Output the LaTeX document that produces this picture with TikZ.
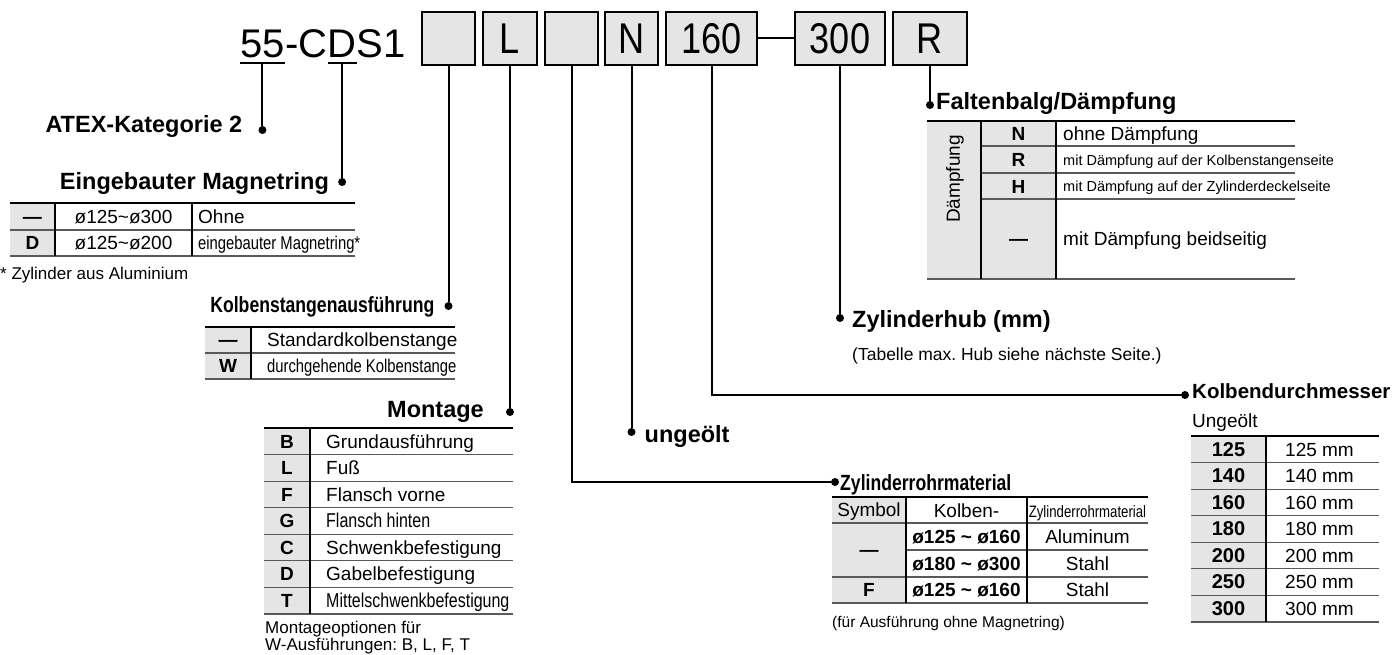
\documentclass[tikz,border=0pt]{standalone}
\usepackage{fontspec}
\setmainfont{Liberation Sans}
\newfontfamily\condfont[FakeStretch=0.8]{Liberation Sans}
\newfontfamily\boxfont[FakeStretch=0.84]{Liberation Sans}
\usetikzlibrary{calc,positioning}
\definecolor{cellgray}{gray}{0.9}
\definecolor{rulegray}{gray}{0.35}
\newcommand{\fsz}[1]{\fontsize{#1}{#1}\selectfont}
\frenchspacing

\begin{document}
\begin{tikzpicture}[x=1pt,y=-1pt,
    codebox/.style={draw, line width=2pt, fill=cellgray, minimum height=53pt, inner sep=0pt, font=\boxfont\fsz{43}},
    title/.style={inner sep=0pt, anchor=base west, font=\fsz{40}},
    leader/.style={line width=2pt},
    dot/.style={circle, fill, inner sep=0pt, minimum size=8pt},
    head/.style={inner sep=0pt, font=\bfseries\fsz{23.5}},
    chead/.style={inner sep=0pt, font=\condfont\bfseries\fsz{22}},
    txt/.style={inner sep=0pt, text height=13.5pt, text depth=0pt, font=\fsz{19}},
    ctxt/.style={inner sep=0pt, text height=13pt, text depth=0pt, font=\condfont\fsz{18.5}},
    stxt/.style={inner sep=0pt, text height=10.5pt, text depth=0pt, font=\fsz{14.5}},
    key/.style={inner sep=0pt, text height=13.5pt, text depth=0pt, font=\bfseries\fsz{19}},
    topline/.style={line width=2.2pt},
    rowline/.style={line width=1.2pt, rulegray},
    colline/.style={line width=1.2pt}]
    \useasboundingbox (0,0) rectangle (1397,655);

    % Part number
    \node[title] (t55) at (240,58) {55};
    \node[title] (tc) at (t55.base east) {-C};
    \node[title] (td) at (tc.base east) {D};
    \node[title] (ts) at (td.base east) {S1};
    \draw[leader] ([yshift=-5pt]t55.base west) -- coordinate (u55) ([yshift=-5pt]t55.base east);
    \draw[leader] ([yshift=-5pt]td.base west) -- coordinate (ud) ([yshift=-5pt]td.base east);

    % Code boxes
    \node[codebox, minimum width=53pt] (b1) at (448.5,38.5) {};
    \node[codebox, minimum width=54pt] (b2) at (510,38.5) {L};
    \node[codebox, minimum width=53pt] (b3) at (571.5,38.5) {};
    \node[codebox, minimum width=53pt] (b4) at (631.5,38.5) {N};
    \node[codebox, minimum width=91pt] (b5) at (711.5,38.5) {160};
    \node[codebox, minimum width=90pt] (b6) at (840,38.5) {300};
    \node[codebox, minimum width=74pt] (b7) at (930,38.5) {R};
    \draw[leader] (b5) -- (b6);

    % Leaders
    \node[dot] (da) at (u55 |- 0,130) {};
    \node[dot] (dm) at (ud |- 0,182) {};
    \node[dot] (dk) at (b1 |- 0,306) {};
    \node[dot] (dmo) at (b2 |- 0,412) {};
    \node[dot] (dz) at (835,482) {};
    \node[dot] (du) at (b4 |- 0,432) {};
    \node[dot] (dkd) at (1185,395) {};
    \node[dot] (dh) at (b6 |- 0,318) {};
    \node[dot] (df) at (b7 |- 0,105) {};
    \draw[leader] (u55) -- (da);
    \draw[leader] (ud) -- (dm);
    \draw[leader] (b1.south) -- (dk);
    \draw[leader] (b2.south) -- (dmo);
    \draw[leader] (b3.south) |- (dz);
    \draw[leader] (b4.south) -- (du);
    \draw[leader] (b5.south) |- (dkd);
    \draw[leader] (b6.south) -- (dh);
    \draw[leader] (b7.south) -- (df);

    % Headings
    \node[head, anchor=base east] (ha) at ([xshift=-20pt,yshift=-3pt]da.center) {ATEX-Kategorie 2};
    \node[head, anchor=base east] (hm) at ([xshift=-13pt,yshift=-8pt]dm.center) {Eingebauter Magnetring};
    \node[chead, anchor=base east] (hk) at ([xshift=-14pt,yshift=-6pt]dk.center) {Kolbenstangenausführung};
    \node[head, anchor=base east] (hmo) at ([xshift=-26pt,yshift=-5pt]dmo.center) {Montage};
    \node[chead, anchor=base west] (hz) at ([xshift=5pt,yshift=-8pt]dz.center) {Zylinderrohrmaterial};
    \node[head, anchor=base west] (hu) at ([xshift=13pt,yshift=-10pt]du.center) {ungeölt};
    \node[head, anchor=base west, font=\bfseries\fsz{20.5}] (hkd) at ([xshift=7pt,yshift=-3pt]dkd.center) {Kolbendurchmesser};
    \node[head, anchor=base west] (hh) at ([xshift=12pt,yshift=-9pt]dh.center) {Zylinderhub (mm)};
    \node[head, anchor=base west] (hf) at ([xshift=6pt,yshift=-5pt]df.center) {Faltenbalg/Dämpfung};

    % Eingebauter Magnetring table
    \fill[cellgray] (10,203) rectangle (55,256);
    \draw[rowline] (10,230) -- (355,230) (10,256) -- (355,256);
    \draw[colline] (55,203) -- (55,256) (192,203) -- (192,256);
    \draw[topline] (10,203) -- (355,203);
    \node[key] (m1k) at (32.5,216.5) {—};
    \node[txt] (m1d) at (123.5,216.5) {ø125\textasciitilde ø300};
    \node[txt, anchor=west] (m1t) at (198,216.5) {Ohne};
    \node[key] (m2k) at (32.5,243) {D};
    \node[txt] (m2d) at (123.5,243) {ø125\textasciitilde ø200};
    \node[ctxt, anchor=west] (m2t) at (198,243) {eingebauter Magnetring*};
    \node[txt, anchor=west, font=\fsz{17}] (mnote) at (0,273) {* Zylinder aus Aluminium};

    % Kolbenstangenausfuehrung table
    \fill[cellgray] (205,327) rectangle (251,379);
    \draw[rowline] (205,353) -- (455,353) (205,379) -- (455,379);
    \draw[colline] (251,327) -- (251,379);
    \draw[topline] (205,327) -- (455,327);
    \node[key] (k1k) at (228,340) {—};
    \node[txt, anchor=west] (k1t) at (267,340) {Standardkolbenstange};
    \node[key] (k2k) at (228,366) {W};
    \node[ctxt, anchor=west] (k2t) at (267,366) {durchgehende Kolbenstange};

    % Montage table
    \fill[cellgray] (264,428) rectangle (310,614);
    \foreach \i in {1,...,7}
        \draw[rowline] (264,428+26.57*\i) -- (513,428+26.57*\i);
    \draw[colline] (310,428) -- (310,614);
    \draw[topline] (264,428) -- (513,428);
    \foreach \code/\lbl [count=\i] in {B/Grundausführung, L/Fuß, F/Flansch vorne,
        G/{\condfont\fsz{20}Flansch hinten}, C/Schwenkbefestigung, D/Gabelbefestigung,
        T/{\condfont\fsz{20}Mittelschwenkbefestigung}} {
        \node[key] (mk\i) at (287,428+26.57*\i-13.28) {\code};
        \node[txt, anchor=west] (mt\i) at (326,428+26.57*\i-13.28) {\lbl};
    }
    \node[txt, anchor=west, font=\fsz{17}] (mo1) at (265,627) {Montageoptionen für};
    \node[txt, anchor=west, font=\fsz{17}] (mo2) at (265,644) {W-Ausführungen: B, L, F, T};

    % Zylinderrohrmaterial table
    \fill[cellgray] (832,497) rectangle (906,603);
    \draw[rowline] (832,523) -- (1148,523) (906,550) -- (1148,550) (832,577) -- (1148,577) (832,603) -- (1148,603);
    \draw[colline] (906,497) -- (906,603) (1027,497) -- (1027,603);
    \draw[topline] (832,497) -- (1148,497);
    \node[txt] (z0a) at (869,510) {Symbol};
    \node[txt] (z0b) at (966.5,511) {Kolben-};
    \node[ctxt, font=\condfont\fsz{16.5}] (z0c) at (1087.5,511) {Zylinderrohrmaterial};
    \node[key] (z1a) at (869,550) {—};
    \node[key] (z1b) at (966.5,536.5) {ø125 \textasciitilde{} ø160};
    \node[txt] (z1c) at (1087.5,536.5) {Aluminum};
    \node[key] (z2b) at (966.5,563.5) {ø180 \textasciitilde{} ø300};
    \node[txt] (z2c) at (1087.5,563.5) {Stahl};
    \node[key] (z3a) at (869,590) {F};
    \node[key] (z3b) at (966.5,590) {ø125 \textasciitilde{} ø160};
    \node[txt] (z3c) at (1087.5,590) {Stahl};
    \node[txt, anchor=west, font=\fsz{15.5}] (znote) at (832,621) {(für Ausführung ohne Magnetring)};

    % Zylinderhub note
    \node[txt, anchor=west, font=\fsz{17.5}] (hnote) at (852,354) {(Tabelle max. Hub siehe nächste Seite.)};

    % Kolbendurchmesser table
    \node[txt, anchor=west] (kdu) at (1192,421) {Ungeölt};
    \fill[cellgray] (1191,436) rectangle (1266,622);
    \foreach \i in {1,...,7}
        \draw[rowline] (1191,436+26.57*\i) -- (1379,436+26.57*\i);
    \draw[colline] (1266,436) -- (1266,622);
    \draw[topline] (1191,436) -- (1379,436);
    \foreach \d [count=\i] in {125,140,160,180,200,250,300} {
        \node[key, font=\bfseries\fsz{20}] (kk\i) at (1228.5,436+26.57*\i-13.28) {\d};
        \node[txt, anchor=west] (kt\i) at (1285,436+26.57*\i-13.28) {\d{} mm};
    }

    % Daempfung table
    \fill[cellgray] (927,121) rectangle (1056,279);
    \draw[rowline] (981,146) -- (1295,146) (981,173) -- (1295,173) (981,199) -- (1295,199) (927,279) -- (1295,279);
    \draw[colline] (981,121) -- (981,279) (1056,121) -- (1056,279);
    \draw[topline] (927,121) -- (1295,121);
    \node[txt, rotate=90] (dlab) at (953,179) {Dämpfung};
    \node[key] (dn) at (1018.5,134) {N};
    \node[key] (dr) at (1018.5,160) {R};
    \node[key] (dhh) at (1018.5,186.5) {H};
    \node[key] (dd) at (1018.5,239) {—};
    \node[txt, anchor=west] (dnt) at (1063,134) {ohne Dämpfung};
    \node[stxt, anchor=west] (drt) at (1063,160) {mit Dämpfung auf der Kolbenstangenseite};
    \node[stxt, anchor=west] (dht) at (1063,186.5) {mit Dämpfung auf der Zylinderdeckelseite};
    \node[txt, anchor=west] (ddt) at (1063,239) {mit Dämpfung beidseitig};
\end{tikzpicture}
\end{document}
